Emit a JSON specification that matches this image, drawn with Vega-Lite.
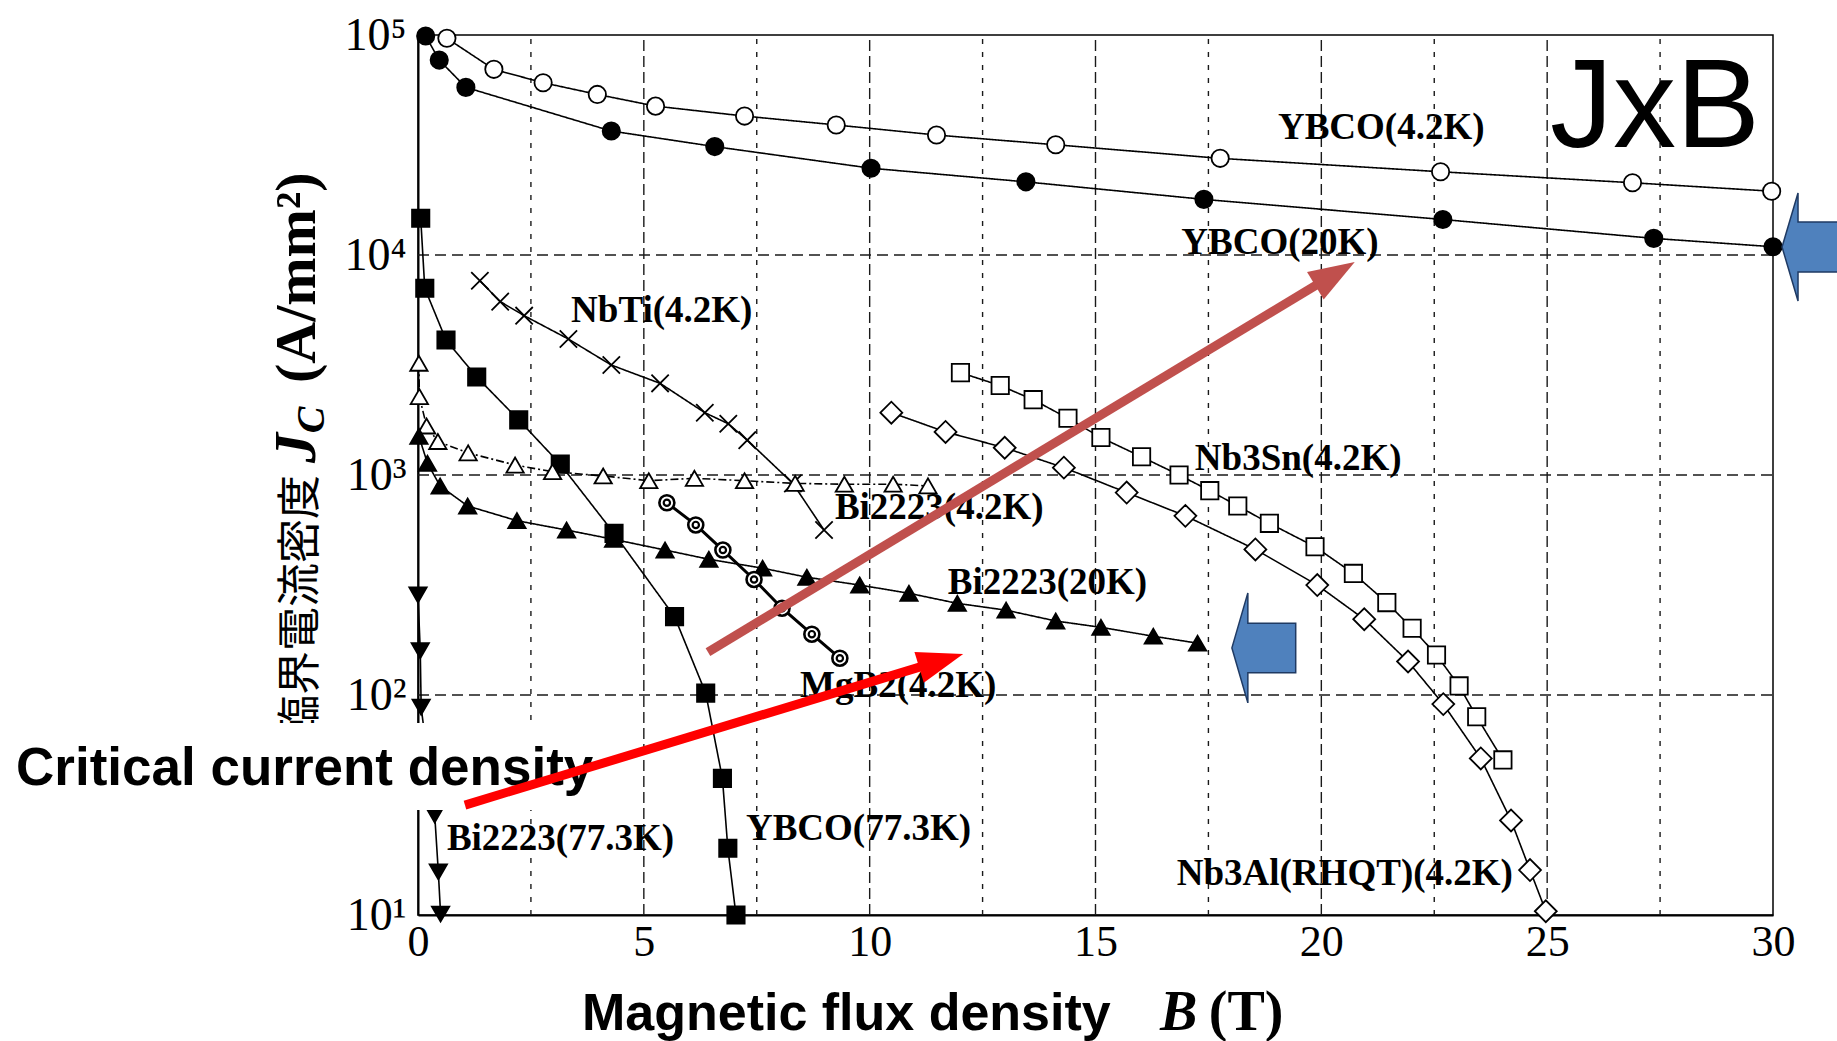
{
  "$schema": "https://vega.github.io/schema/vega-lite/v6.json",
  "width": 1355,
  "height": 880,
  "autosize": "none",
  "padding": {"left": 418, "top": 35, "right": 64, "bottom": 126},
  "background": "white",
  "config": {
    "view": {"stroke": "black", "strokeWidth": 1.5}
  },
  "datasets": {
    "curves": [
      {"s": "YBCO(4.2K)", "B": 0.64, "J": 96600},
      {"s": "YBCO(4.2K)", "B": 1.68, "J": 69800},
      {"s": "YBCO(4.2K)", "B": 2.77, "J": 60700},
      {"s": "YBCO(4.2K)", "B": 3.97, "J": 53700},
      {"s": "YBCO(4.2K)", "B": 5.26, "J": 47500},
      {"s": "YBCO(4.2K)", "B": 7.23, "J": 42800},
      {"s": "YBCO(4.2K)", "B": 9.26, "J": 39000},
      {"s": "YBCO(4.2K)", "B": 11.48, "J": 35100},
      {"s": "YBCO(4.2K)", "B": 14.12, "J": 31700},
      {"s": "YBCO(4.2K)", "B": 17.76, "J": 27500},
      {"s": "YBCO(4.2K)", "B": 22.64, "J": 23900},
      {"s": "YBCO(4.2K)", "B": 26.89, "J": 21300},
      {"s": "YBCO(4.2K)", "B": 29.97, "J": 19500},
      {"s": "YBCO(20K)", "B": 0.17, "J": 99000},
      {"s": "YBCO(20K)", "B": 0.47, "J": 76900},
      {"s": "YBCO(20K)", "B": 1.06, "J": 57800},
      {"s": "YBCO(20K)", "B": 4.28, "J": 36600},
      {"s": "YBCO(20K)", "B": 6.57, "J": 31100},
      {"s": "YBCO(20K)", "B": 10.03, "J": 24800},
      {"s": "YBCO(20K)", "B": 13.46, "J": 21500},
      {"s": "YBCO(20K)", "B": 17.4, "J": 17900},
      {"s": "YBCO(20K)", "B": 22.69, "J": 14500},
      {"s": "YBCO(20K)", "B": 27.36, "J": 11900},
      {"s": "YBCO(20K)", "B": 30.0, "J": 10900},
      {"s": "YBCO(77.3K)", "B": 0.06, "J": 14700},
      {"s": "YBCO(77.3K)", "B": 0.15, "J": 7060},
      {"s": "YBCO(77.3K)", "B": 0.62, "J": 4110},
      {"s": "YBCO(77.3K)", "B": 1.3, "J": 2790},
      {"s": "YBCO(77.3K)", "B": 2.23, "J": 1780},
      {"s": "YBCO(77.3K)", "B": 3.15, "J": 1120},
      {"s": "YBCO(77.3K)", "B": 4.34, "J": 543},
      {"s": "YBCO(77.3K)", "B": 5.68, "J": 227},
      {"s": "YBCO(77.3K)", "B": 6.37, "J": 102},
      {"s": "YBCO(77.3K)", "B": 6.74, "J": 41.8},
      {"s": "YBCO(77.3K)", "B": 6.86, "J": 20.1},
      {"s": "YBCO(77.3K)", "B": 7.04, "J": 10},
      {"s": "NbTi(4.2K)", "B": 1.37, "J": 7640},
      {"s": "NbTi(4.2K)", "B": 1.82, "J": 6140},
      {"s": "NbTi(4.2K)", "B": 2.35, "J": 5300},
      {"s": "NbTi(4.2K)", "B": 3.33, "J": 4150},
      {"s": "NbTi(4.2K)", "B": 4.28, "J": 3160},
      {"s": "NbTi(4.2K)", "B": 5.36, "J": 2610},
      {"s": "NbTi(4.2K)", "B": 6.35, "J": 1920},
      {"s": "NbTi(4.2K)", "B": 6.87, "J": 1710},
      {"s": "NbTi(4.2K)", "B": 7.29, "J": 1440},
      {"s": "NbTi(4.2K)", "B": 8.3, "J": 916},
      {"s": "NbTi(4.2K)", "B": 8.99, "J": 562},
      {"s": "Bi2223(4.2K)", "B": 0.02, "J": 3220},
      {"s": "Bi2223(4.2K)", "B": 0.03, "J": 2270},
      {"s": "Bi2223(4.2K)", "B": 0.19, "J": 1670},
      {"s": "Bi2223(4.2K)", "B": 0.44, "J": 1420},
      {"s": "Bi2223(4.2K)", "B": 1.11, "J": 1260},
      {"s": "Bi2223(4.2K)", "B": 2.15, "J": 1110},
      {"s": "Bi2223(4.2K)", "B": 2.98, "J": 1035},
      {"s": "Bi2223(4.2K)", "B": 4.1, "J": 990},
      {"s": "Bi2223(4.2K)", "B": 5.11, "J": 942},
      {"s": "Bi2223(4.2K)", "B": 6.12, "J": 966},
      {"s": "Bi2223(4.2K)", "B": 7.23, "J": 942},
      {"s": "Bi2223(4.2K)", "B": 8.35, "J": 916},
      {"s": "Bi2223(4.2K)", "B": 9.44, "J": 908},
      {"s": "Bi2223(4.2K)", "B": 10.52, "J": 908},
      {"s": "Bi2223(4.2K)", "B": 11.29, "J": 892},
      {"s": "Bi2223(20K)", "B": 0.02, "J": 1500},
      {"s": "Bi2223(20K)", "B": 0.21, "J": 1130},
      {"s": "Bi2223(20K)", "B": 0.49, "J": 891},
      {"s": "Bi2223(20K)", "B": 1.1, "J": 723},
      {"s": "Bi2223(20K)", "B": 2.19, "J": 620},
      {"s": "Bi2223(20K)", "B": 3.29, "J": 562},
      {"s": "Bi2223(20K)", "B": 4.33, "J": 510},
      {"s": "Bi2223(20K)", "B": 5.47, "J": 456},
      {"s": "Bi2223(20K)", "B": 6.44, "J": 414},
      {"s": "Bi2223(20K)", "B": 7.63, "J": 377},
      {"s": "Bi2223(20K)", "B": 8.61, "J": 343},
      {"s": "Bi2223(20K)", "B": 9.78, "J": 316},
      {"s": "Bi2223(20K)", "B": 10.87, "J": 290},
      {"s": "Bi2223(20K)", "B": 11.94, "J": 261},
      {"s": "Bi2223(20K)", "B": 13.02, "J": 243},
      {"s": "Bi2223(20K)", "B": 14.12, "J": 217},
      {"s": "Bi2223(20K)", "B": 15.12, "J": 203},
      {"s": "Bi2223(20K)", "B": 16.28, "J": 185},
      {"s": "Bi2223(20K)", "B": 17.26, "J": 172},
      {"s": "Bi2223(77.3K)", "B": 0.0, "J": 285},
      {"s": "Bi2223(77.3K)", "B": 0.05, "J": 159},
      {"s": "Bi2223(77.3K)", "B": 0.07, "J": 88},
      {"s": "Bi2223(77.3K)", "B": 0.37, "J": 28.5},
      {"s": "Bi2223(77.3K)", "B": 0.45, "J": 15.7},
      {"s": "Bi2223(77.3K)", "B": 0.5, "J": 10.1},
      {"s": "MgB2(4.2K)", "B": 5.51, "J": 748},
      {"s": "MgB2(4.2K)", "B": 6.15, "J": 593},
      {"s": "MgB2(4.2K)", "B": 6.75, "J": 456},
      {"s": "MgB2(4.2K)", "B": 7.44, "J": 335},
      {"s": "MgB2(4.2K)", "B": 8.06, "J": 248},
      {"s": "MgB2(4.2K)", "B": 8.72, "J": 189},
      {"s": "MgB2(4.2K)", "B": 9.34, "J": 147},
      {"s": "Nb3Sn(4.2K)", "B": 12.01, "J": 2920},
      {"s": "Nb3Sn(4.2K)", "B": 12.89, "J": 2550},
      {"s": "Nb3Sn(4.2K)", "B": 13.62, "J": 2200},
      {"s": "Nb3Sn(4.2K)", "B": 14.39, "J": 1810},
      {"s": "Nb3Sn(4.2K)", "B": 15.12, "J": 1480},
      {"s": "Nb3Sn(4.2K)", "B": 16.02, "J": 1210},
      {"s": "Nb3Sn(4.2K)", "B": 16.85, "J": 1000},
      {"s": "Nb3Sn(4.2K)", "B": 17.53, "J": 849},
      {"s": "Nb3Sn(4.2K)", "B": 18.15, "J": 723},
      {"s": "Nb3Sn(4.2K)", "B": 18.85, "J": 603},
      {"s": "Nb3Sn(4.2K)", "B": 19.86, "J": 472},
      {"s": "Nb3Sn(4.2K)", "B": 20.71, "J": 357},
      {"s": "Nb3Sn(4.2K)", "B": 21.45, "J": 263},
      {"s": "Nb3Sn(4.2K)", "B": 22.01, "J": 201},
      {"s": "Nb3Sn(4.2K)", "B": 22.55, "J": 152},
      {"s": "Nb3Sn(4.2K)", "B": 23.05, "J": 110},
      {"s": "Nb3Sn(4.2K)", "B": 23.44, "J": 79.6},
      {"s": "Nb3Sn(4.2K)", "B": 24.02, "J": 50.7},
      {"s": "Nb3Al(RHQT)(4.2K)", "B": 10.48, "J": 1920},
      {"s": "Nb3Al(RHQT)(4.2K)", "B": 11.68, "J": 1570},
      {"s": "Nb3Al(RHQT)(4.2K)", "B": 12.99, "J": 1330},
      {"s": "Nb3Al(RHQT)(4.2K)", "B": 14.3, "J": 1080},
      {"s": "Nb3Al(RHQT)(4.2K)", "B": 15.69, "J": 832},
      {"s": "Nb3Al(RHQT)(4.2K)", "B": 16.99, "J": 652},
      {"s": "Nb3Al(RHQT)(4.2K)", "B": 18.54, "J": 459},
      {"s": "Nb3Al(RHQT)(4.2K)", "B": 19.91, "J": 316},
      {"s": "Nb3Al(RHQT)(4.2K)", "B": 20.95, "J": 221},
      {"s": "Nb3Al(RHQT)(4.2K)", "B": 21.92, "J": 142},
      {"s": "Nb3Al(RHQT)(4.2K)", "B": 22.7, "J": 90.9},
      {"s": "Nb3Al(RHQT)(4.2K)", "B": 23.53, "J": 51.5},
      {"s": "Nb3Al(RHQT)(4.2K)", "B": 24.2, "J": 26.9},
      {"s": "Nb3Al(RHQT)(4.2K)", "B": 24.62, "J": 16.0},
      {"s": "Nb3Al(RHQT)(4.2K)", "B": 24.97, "J": 10.4}
    ]
  },
  "encoding": {
    "x": {
      "field": "B",
      "type": "quantitative",
      "title": null,
      "scale": {"domain": [0, 30], "nice": false, "zero": false},
      "axis": {
        "values": [0, 5, 10, 15, 20, 25, 30],
        "grid": false,
        "ticks": false,
        "domainColor": "black",
        "domainWidth": 2,
        "labelFont": "Liberation Serif",
        "labelFontSize": 44,
        "labelColor": "black",
        "labelPadding": 5,
        "labelFlush": false,
        "labelOverlap": false
      }
    },
    "y": {
      "field": "J",
      "type": "quantitative",
      "title": null,
      "scale": {"type": "log", "domain": [10, 100000], "nice": false},
      "axis": {
        "values": [10, 100, 1000, 10000, 100000],
        "labelExpr": "datum.value == 10 ? '10¹' : datum.value == 100 ? '10²' : datum.value == 1000 ? '10³' : datum.value == 10000 ? '10⁴' : '10⁵'",
        "grid": false,
        "ticks": false,
        "domainColor": "black",
        "domainWidth": 2,
        "labelFont": "Liberation Serif",
        "labelFontSize": 46,
        "labelColor": "black",
        "labelPadding": 12,
        "labelFlush": false,
        "labelOverlap": false
      }
    }
  },
  "layer": [
    {
      "data": {"values": [
        {"B": 5, "J": 10, "J2": 100000},
        {"B": 10, "J": 10, "J2": 100000},
        {"B": 15, "J": 10, "J2": 100000},
        {"B": 20, "J": 10, "J2": 100000},
        {"B": 25, "J": 10, "J2": 100000}
      ]},
      "mark": {"type": "rule", "stroke": "#1a1a1a", "strokeWidth": 1.4, "strokeDash": [11, 5]},
      "encoding": {"y2": {"field": "J2"}}
    },
    {
      "data": {"values": [
        {"B": 2.5, "J": 10, "J2": 100000},
        {"B": 7.5, "J": 10, "J2": 100000},
        {"B": 12.5, "J": 10, "J2": 100000},
        {"B": 17.5, "J": 10, "J2": 100000},
        {"B": 22.5, "J": 10, "J2": 100000},
        {"B": 27.5, "J": 10, "J2": 100000}
      ]},
      "mark": {"type": "rule", "stroke": "#1a1a1a", "strokeWidth": 1.4, "strokeDash": [5, 8]},
      "encoding": {"y2": {"field": "J2"}}
    },
    {
      "data": {"values": [
        {"B": 0, "B2": 30, "J": 100},
        {"B": 0, "B2": 30, "J": 1000},
        {"B": 0, "B2": 30, "J": 10000}
      ]},
      "mark": {"type": "rule", "stroke": "#1a1a1a", "strokeWidth": 1.4, "strokeDash": [11, 6]},
      "encoding": {"x2": {"field": "B2"}}
    },
    {
      "data": {"name": "curves"},
      "transform": [{"filter": "datum.s != 'MgB2(4.2K)'"}],
      "mark": {"type": "line", "color": "black", "strokeWidth": 1.6},
      "encoding": {
        "strokeDash": {
          "field": "s",
          "type": "nominal",
          "legend": null,
          "scale": {
            "domain": ["YBCO(4.2K)", "YBCO(20K)", "YBCO(77.3K)", "NbTi(4.2K)", "Bi2223(4.2K)", "Bi2223(20K)", "Bi2223(77.3K)", "Nb3Sn(4.2K)", "Nb3Al(RHQT)(4.2K)"],
            "range": [[1, 0], [1, 0], [1, 0], [1, 0], [8, 3, 2, 3], [1, 0], [1, 0], [1, 0], [1, 0]]
          }
        }
      }
    },
    {
      "data": {"name": "curves"},
      "transform": [{"filter": "datum.s == 'MgB2(4.2K)'"}],
      "mark": {"type": "line", "color": "black", "strokeWidth": 3},
      "encoding": {}
    },
    {
      "data": {"name": "curves"},
      "transform": [{"filter": "datum.s != 'MgB2(4.2K)' && datum.s != 'Nb3Al(RHQT)(4.2K)'"}],
      "mark": {"type": "point", "filled": true, "stroke": "black", "strokeWidth": 1.8, "size": 300, "opacity": 1},
      "encoding": {
        "shape": {
          "field": "s",
          "type": "nominal",
          "legend": null,
          "scale": {
            "domain": ["YBCO(4.2K)", "YBCO(20K)", "YBCO(77.3K)", "NbTi(4.2K)", "Bi2223(4.2K)", "Bi2223(20K)", "Bi2223(77.3K)", "Nb3Sn(4.2K)"],
            "range": ["circle", "circle", "square", "M-1,-1L1,1M-1,1L1,-1", "triangle-up", "triangle-up", "triangle-down", "square"]
          }
        },
        "fill": {
          "field": "s",
          "type": "nominal",
          "legend": null,
          "scale": {
            "domain": ["YBCO(4.2K)", "YBCO(20K)", "YBCO(77.3K)", "NbTi(4.2K)", "Bi2223(4.2K)", "Bi2223(20K)", "Bi2223(77.3K)", "Nb3Sn(4.2K)"],
            "range": ["white", "black", "black", "white", "white", "black", "black", "white"]
          }
        }
      }
    },
    {
      "data": {"name": "curves"},
      "transform": [{"filter": "datum.s == 'Nb3Al(RHQT)(4.2K)'"}],
      "mark": {"type": "point", "shape": "diamond", "filled": true, "fill": "white", "stroke": "black", "strokeWidth": 1.8, "size": 480, "opacity": 1},
      "encoding": {}
    },
    {
      "data": {"name": "curves"},
      "transform": [{"filter": "datum.s == 'MgB2(4.2K)'"}],
      "mark": {"type": "point", "shape": "circle", "filled": true, "fill": "white", "stroke": "black", "strokeWidth": 2.6, "size": 225, "opacity": 1},
      "encoding": {}
    },
    {
      "data": {"name": "curves"},
      "transform": [{"filter": "datum.s == 'MgB2(4.2K)'"}],
      "mark": {"type": "point", "shape": "circle", "filled": true, "fill": "white", "stroke": "black", "strokeWidth": 2.2, "size": 40, "opacity": 1},
      "encoding": {}
    },
    {
      "data": {"values": [
        {"t": "YBCO(4.2K)", "B": 19.04, "J": 33700},
        {"t": "YBCO(20K)", "B": 16.9, "J": 10100},
        {"t": "NbTi(4.2K)", "B": 3.39, "J": 4960},
        {"t": "Bi2223(4.2K)", "B": 9.23, "J": 631},
        {"t": "Bi2223(20K)", "B": 11.73, "J": 288},
        {"t": "MgB2(4.2K)", "B": 8.46, "J": 98},
        {"t": "Nb3Sn(4.2K)", "B": 17.2, "J": 1054},
        {"t": "Bi2223(77.3K)", "B": 0.64, "J": 19.7},
        {"t": "YBCO(77.3K)", "B": 7.26, "J": 21.9},
        {"t": "Nb3Al(RHQT)(4.2K)", "B": 16.8, "J": 13.7}
      ]},
      "mark": {"type": "text", "font": "Liberation Serif", "fontWeight": "bold", "fontSize": 37, "align": "left", "baseline": "alphabetic", "color": "black"},
      "encoding": {"text": {"field": "t"}}
    },
    {
      "data": {"values": [{"t": "臨界電流密度", "B": -2.28, "J": 63.1}]},
      "mark": {"type": "text", "font": "Noto Sans CJK JP", "fontSize": 44, "angle": 270, "align": "left", "baseline": "alphabetic", "color": "black"},
      "encoding": {"text": {"field": "t"}}
    },
    {
      "data": {"values": [{"t": "J", "B": -2.28, "J": 1135}]},
      "mark": {"type": "text", "font": "Liberation Serif", "fontWeight": "bold", "fontStyle": "italic", "fontSize": 60, "angle": 270, "align": "left", "baseline": "alphabetic", "color": "black"},
      "encoding": {"text": {"field": "t"}}
    },
    {
      "data": {"values": [{"t": "C", "B": -2.08, "J": 1550}]},
      "mark": {"type": "text", "font": "Liberation Serif", "fontWeight": "bold", "fontStyle": "italic", "fontSize": 40, "angle": 270, "align": "left", "baseline": "alphabetic", "color": "black"},
      "encoding": {"text": {"field": "t"}}
    },
    {
      "data": {"values": [{"t": "(A/mm²)", "B": -2.28, "J": 2618}]},
      "mark": {"type": "text", "font": "Liberation Serif", "fontWeight": "bold", "fontSize": 58, "angle": 270, "align": "left", "baseline": "alphabetic", "color": "black"},
      "encoding": {"text": {"field": "t"}}
    },
    {
      "data": {"values": [{"B": -9.3, "B2": 4.03, "J": 74.6, "J2": 30.0}]},
      "mark": {"type": "rect", "color": "white", "opacity": 1},
      "encoding": {"x2": {"field": "B2"}, "y2": {"field": "J2"}}
    },
    {
      "data": {"values": [{"t": "Critical current density", "B": -8.9, "J": 39.0}]},
      "mark": {"type": "text", "font": "Liberation Sans", "fontWeight": "bold", "fontSize": 53, "align": "left", "baseline": "alphabetic", "color": "black"},
      "encoding": {"text": {"field": "t"}}
    },
    {
      "data": {"values": [{"t": "Magnetic flux density", "B": 3.63, "J": 3.0}]},
      "mark": {"type": "text", "font": "Liberation Sans", "fontWeight": "bold", "fontSize": 52, "align": "left", "baseline": "alphabetic", "color": "black"},
      "encoding": {"text": {"field": "t"}}
    },
    {
      "data": {"values": [{"t": "B", "B": 16.43, "J": 3.0}]},
      "mark": {"type": "text", "font": "Liberation Serif", "fontWeight": "bold", "fontStyle": "italic", "fontSize": 56, "align": "left", "baseline": "alphabetic", "color": "black"},
      "encoding": {"text": {"field": "t"}}
    },
    {
      "data": {"values": [{"t": "(T)", "B": 17.51, "J": 3.0}]},
      "mark": {"type": "text", "font": "Liberation Serif", "fontWeight": "bold", "fontSize": 56, "align": "left", "baseline": "alphabetic", "color": "black"},
      "encoding": {"text": {"field": "t"}}
    },
    {
      "data": {"values": [{"t": "JxB", "B": 25.06, "J": 30990}]},
      "mark": {"type": "text", "font": "Liberation Sans", "fontSize": 126, "align": "left", "baseline": "alphabetic", "color": "black"},
      "encoding": {"text": {"field": "t"}}
    },
    {
      "data": {"values": [{"B": 18.02, "J": 163.7}]},
      "mark": {"type": "point", "shape": "M0,0L0.29,-1L0.29,-0.45L1.16,-0.45L1.16,0.45L0.29,0.45L0.29,1Z", "size": 12100, "filled": true, "fill": "#4F81BD", "stroke": "#1F3A63", "strokeWidth": 1.5, "opacity": 1},
      "encoding": {}
    },
    {
      "data": {"values": [{"B": 30.2, "J": 10870}]},
      "mark": {"type": "point", "shape": "M0,0L0.296,-1L0.296,-0.463L1.2,-0.463L1.2,0.463L0.296,0.463L0.296,1Z", "size": 11664, "filled": true, "fill": "#4F81BD", "stroke": "#1F3A63", "strokeWidth": 1.5, "opacity": 1},
      "encoding": {}
    },
    {
      "data": {"values": [{"B": 1.04, "J": 31.6}, {"B": 11.43, "J": 140.3}]},
      "mark": {"type": "line", "color": "#FF0000", "strokeWidth": 9, "strokeCap": "butt"},
      "encoding": {}
    },
    {
      "data": {"values": [{"B": 12.07, "J": 153.5}]},
      "mark": {"type": "point", "shape": "M0,0L-2,-0.7L-2,0.7Z", "size": 2116, "angle": 343.1, "filled": true, "color": "#FF0000", "opacity": 1, "strokeWidth": 0},
      "encoding": {}
    },
    {
      "data": {"values": [{"B": 6.42, "J": 156.6}, {"B": 20.17, "J": 7907}]},
      "mark": {"type": "line", "color": "#C0504D", "strokeWidth": 9, "strokeCap": "butt"},
      "encoding": {}
    },
    {
      "data": {"values": [{"B": 20.74, "J": 9290}]},
      "mark": {"type": "point", "shape": "M0,0L-2,-0.7L-2,0.7Z", "size": 2116, "angle": 328.9, "filled": true, "color": "#C0504D", "opacity": 1, "strokeWidth": 0},
      "encoding": {}
    }
  ]
}
